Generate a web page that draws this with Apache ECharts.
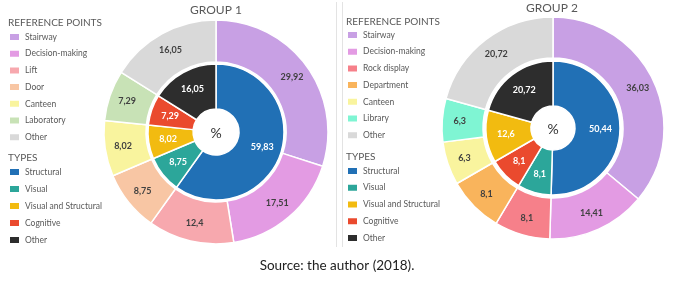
<!DOCTYPE html>
<html>
<head>
<meta charset="utf-8">
<script src="https://cdn.jsdelivr.net/npm/echarts@6/dist/echarts.min.js"></script>
<style>
  html, body { margin: 0; padding: 0; background: #fff; }
  #chart { width: 683px; height: 288px; }
</style>
</head>
<body>
<div id="chart"></div>
<script>
// group 1 - reference points (outer ring)
const refNames1 = ['Stairway', 'Decision-making', 'Lift', 'Door', 'Canteen', 'Laboratory', 'Other']
const refValues1 = [29.92, 17.51, 12.4, 8.75, 8.02, 7.29, 16.05]
const refColors1 = ['#C8A0E4', '#E39BE3', '#F7A8AE', '#F8C6A4', '#F9F49E', '#C8E2B6', '#D9D9D9']
// group 1 - types (inner ring)
const typeNames1 = ['Structural', 'Visual', 'Visual and Structural', 'Cognitive', 'Other']
const typeValues1 = [59.83, 8.75, 8.02, 7.29, 16.05]

// group 2 - reference points
const refNames2 = ['Stairway', 'Decision-making', 'Rock display', 'Department', 'Canteen', 'Library', 'Other']
const refValues2 = [36.03, 14.41, 8.1, 8.1, 6.3, 6.3, 20.72]
const refColors2 = ['#C8A0E4', '#E39BE3', '#F6808A', '#F9B45C', '#F9F49E', '#7FF5D3', '#D9D9D9']
// group 2 - types (order as drawn clockwise)
const typeNames2 = ['Structural', 'Visual', 'Cognitive', 'Visual and Structural', 'Other']
const typeValues2 = [50.44, 8.1, 8.1, 12.6, 20.72]

const typeColor = {
    'Structural': '#2170B5',
    'Visual': '#2CA69A',
    'Visual and Structural': '#F2BB10',
    'Cognitive': '#EA4A2E',
    'Other': '#2D2D2D'
}
const legendTypes = ['Structural', 'Visual', 'Visual and Structural', 'Cognitive', 'Other']

const font = 'Lato, "Open Sans", sans-serif'
const comma = (p) => String(p.value).replace('.', ',')

const ring = (names, values, colors, center, radius, labelColor) => ({
    type: 'pie',
    center: center,
    radius: radius,
    startAngle: 90,
    clockwise: true,
    avoidLabelOverlap: false,
    silent: true,
    itemStyle: { borderColor: '#fff', borderWidth: 1.5 },
    label: {
        show: true,
        position: 'inside',
        formatter: comma,
        color: labelColor,
        fontSize: 9,
        fontWeight: 'bold',
        fontFamily: font
    },
    labelLine: { show: false },
    data: names.map((n, i) => ({ name: n, value: values[i], itemStyle: { color: colors[i] } }))
})

const legendBox = (names, left, top, gap, colors) => ({
    orient: 'vertical',
    left: left,
    top: top,
    padding: 0,
    itemWidth: 11,
    itemHeight: 8,
    itemGap: gap,
    icon: 'rect',
    selectedMode: false,
    textStyle: { color: '#595959', fontSize: 8.5, lineHeight: 10, fontFamily: font },
    data: names.map((n, i) => ({ name: n, itemStyle: { color: colors[i] } }))
})

const txt = (text, x, y, size, color, align) => ({
    type: 'text',
    x: x,
    y: y,
    style: {
        text: text,
        fontSize: size,
        fill: color,
        fontFamily: font,
        textAlign: align || 'left',
        textVerticalAlign: 'middle'
    }
})

let chart = echarts.init(document.getElementById('chart'))
chart.setOption({
    backgroundColor: '#fff',
    animation: false,
    legend: [
        legendBox(refNames1, 8, 32, 6.7, refColors1),
        legendBox(legendTypes, 8, 167, 7, legendTypes.map(t => typeColor[t])),
        legendBox(refNames2, 346, 30, 6.7, refColors2),
        legendBox(legendTypes, 346, 166, 6.75, legendTypes.map(t => typeColor[t]))
    ],
    graphic: [
        { type: 'line', shape: { x1: 336.5, y1: 2, x2: 336.5, y2: 247 }, style: { stroke: '#E3E3E3', lineWidth: 1 } },
        { type: 'line', shape: { x1: 342.5, y1: 2, x2: 342.5, y2: 247 }, style: { stroke: '#E3E3E3', lineWidth: 1 } },
        txt('REFERENCE POINTS', 8, 23, 10, '#595959'),
        txt('TYPES', 8, 158, 10, '#595959'),
        txt('REFERENCE POINTS', 346, 22, 10, '#595959'),
        txt('TYPES', 346, 157, 10, '#595959'),
        txt('GROUP 1', 216, 10, 12, '#595959', 'center'),
        txt('GROUP 2', 552, 8, 12, '#595959', 'center'),
        txt('%', 216, 133, 14, '#333', 'center'),
        txt('%', 553, 129, 14, '#333', 'center'),
        txt('Source: the author (2018).', 337, 266, 13.5, '#222', 'center')
    ],
    series: [
        ring(refNames1, refValues1, refColors1, [216, 132], [70, 112], '#404040'),
        ring(typeNames1, typeValues1, typeNames1.map(t => typeColor[t]), [216, 132], [23, 68], '#fff'),
        ring(refNames2, refValues2, refColors2, [553, 128], [70, 111], '#404040'),
        ring(typeNames2, typeValues2, typeNames2.map(t => typeColor[t]), [553, 128], [22, 67], '#fff')
    ]
})
</script>
</body>
</html>
